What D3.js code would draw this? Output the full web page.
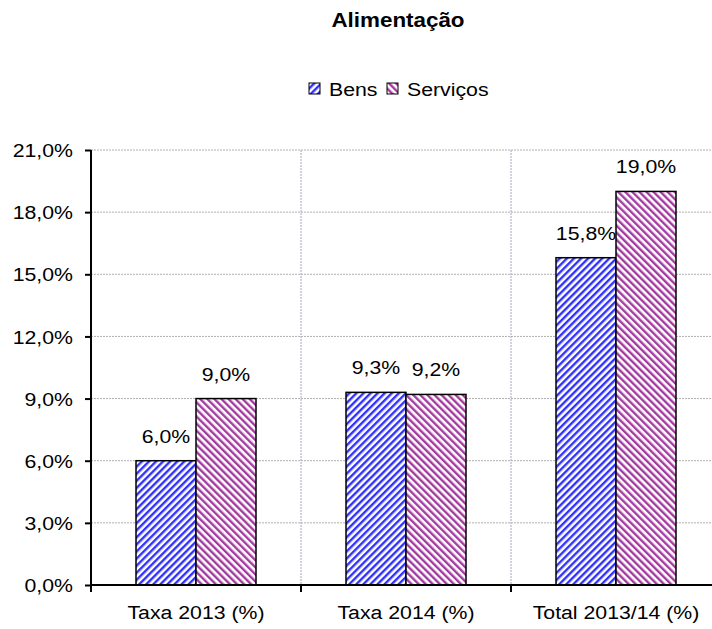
<!DOCTYPE html>
<html>
<head>
<meta charset="utf-8">
<script src="https://cdn.jsdelivr.net/npm/d3@7"></script>
<style>
  body { margin: 0; background: #fff; }
  svg { display: block; font-family: "Liberation Sans", Arial, sans-serif; }
</style>
</head>
<body>
<svg width="712" height="629"></svg>
<script>
var categories = ["Taxa 2013 (%)", "Taxa 2014 (%)", "Total 2013/14 (%)"];
var series = ["Bens", "Serviços"];
var bens = [6.0, 9.3, 15.8];
var servicos = [9.0, 9.2, 19.0];
var yTicks = [0, 3, 6, 9, 12, 15, 18, 21];

var svg = d3.select("svg"),
    margin = { top: 150, right: -9, bottom: 44, left: 91 },
    width = +svg.attr("width") - margin.left - margin.right,
    height = +svg.attr("height") - margin.top - margin.bottom;

var SX = 1.12; // text in the original is a bit wide
var FS = "19px";
var fmt = function(v) { return d3.format(".1f")(v).replace(".", ",") + "%"; };

var colors = { "Bens": "#3030ff", "Serviços": "#a33aa0" };

// stripe patterns
var defs = svg.append("defs");
function stripes(id, color, dir) {
    var p = defs.append("pattern")
        .attr("id", id)
        .attr("patternUnits", "userSpaceOnUse")
        .attr("width", 5)
        .attr("height", 5)
        .attr("patternTransform", "rotate(" + dir + ")");
    p.append("rect").attr("width", 5).attr("height", 5).attr("fill", "#fff");
    p.append("rect").attr("width", 2.4).attr("height", 5).attr("fill", color);
}
stripes("pat-bens", colors["Bens"], 45);
stripes("pat-serv", colors["Serviços"], -45);
var fills = { "Bens": "url(#pat-bens)", "Serviços": "url(#pat-serv)" };

function wide(sel, x, y) {
    sel.attr("transform", "translate(" + x + "," + y + ") scale(" + SX + ",1)");
}

// title
svg.append("text")
    .attr("text-anchor", "middle")
    .style("font-weight", "bold")
    .style("font-size", "20px")
    .text("Alimentação")
    .call(wide, 398, 27);

// legend
var legend = svg.append("g");
var legX = [309, 387];
series.forEach(function(s, i) {
    legend.append("rect")
        .attr("x", legX[i]).attr("y", 83)
        .attr("width", 11).attr("height", 11)
        .attr("fill", fills[s])
        .attr("stroke", "#000").attr("stroke-width", 1);
    legend.append("text")
        .style("font-size", FS)
        .text(s)
        .call(wide, legX[i] + 20, 96);
});

var x0 = d3.scaleBand().domain(categories).range([0, width]);
var bw = x0.bandwidth();
var x1 = d3.scaleBand().domain(series).range([bw * 45 / 210, bw * 165 / 210]);
var y = d3.scaleLinear().domain([0, 21]).range([height, 0]);

var g = svg.append("g")
    .attr("transform", "translate(" + margin.left + "," + margin.top + ")");

// gridlines
g.append("g").selectAll("line")
    .data(yTicks.slice(1))
    .join("line")
    .attr("x1", 0).attr("x2", width)
    .attr("y1", function(d) { return y(d); })
    .attr("y2", function(d) { return y(d); })
    .attr("stroke", "#b0b0b0")
    .attr("stroke-dasharray", "2,1")
    .attr("stroke-width", 1);

g.append("g").selectAll("line")
    .data(categories.slice(1))
    .join("line")
    .attr("x1", function(d) { return x0(d); })
    .attr("x2", function(d) { return x0(d); })
    .attr("y1", 0).attr("y2", height)
    .attr("stroke", "#a8a8c0")
    .attr("stroke-dasharray", "2,1")
    .attr("stroke-width", 1);

// bars
var rows = categories.map(function(c, i) {
    return { cat: c, vals: [ { s: "Bens", v: bens[i] }, { s: "Serviços", v: servicos[i] } ] };
});

var groups = g.selectAll(".grp")
    .data(rows)
    .join("g")
    .attr("class", "grp")
    .attr("transform", function(d) { return "translate(" + x0(d.cat) + ",0)"; });

groups.selectAll("rect")
    .data(function(d) { return d.vals; })
    .join("rect")
    .attr("x", function(d) { return x1(d.s); })
    .attr("y", function(d) { return y(d.v); })
    .attr("width", x1.bandwidth())
    .attr("height", function(d) { return height - y(d.v); })
    .attr("fill", function(d) { return fills[d.s]; })
    .attr("stroke", "#000")
    .attr("stroke-width", 1.5);

groups.selectAll("text.lbl")
    .data(function(d) { return d.vals; })
    .join("text")
    .attr("class", "lbl")
    .attr("text-anchor", "middle")
    .style("font-size", FS)
    .text(function(d) { return fmt(d.v); })
    .each(function(d) {
        d3.select(this).call(wide, x1(d.s) + x1.bandwidth() / 2, y(d.v) - 18);
    });

// y axis
var yAxis = g.append("g")
    .call(d3.axisLeft(y).tickValues(yTicks).tickSize(6).tickSizeOuter(0).tickFormat(fmt));
yAxis.attr("font-family", null).attr("font-size", null);
yAxis.select(".domain").attr("stroke-width", 2).attr("d", "M0,0V" + (height + 7));
yAxis.selectAll(".tick line").attr("stroke-width", 2);
yAxis.selectAll(".tick text")
    .attr("x", null).attr("dy", "0.35em")
    .style("font-size", FS)
    .call(wide, -18, 0);

// x axis
var xAxis = g.append("g")
    .attr("transform", "translate(0," + height + ")");
xAxis.append("line")
    .attr("x1", 0).attr("x2", width)
    .attr("stroke", "#000").attr("stroke-width", 2);
xAxis.selectAll("line.tk")
    .data(categories.slice(1))
    .join("line")
    .attr("class", "tk")
    .attr("x1", function(d) { return x0(d); })
    .attr("x2", function(d) { return x0(d); })
    .attr("y1", 0).attr("y2", 7)
    .attr("stroke", "#000").attr("stroke-width", 2);
xAxis.selectAll("text")
    .data(categories)
    .join("text")
    .attr("text-anchor", "middle")
    .style("font-size", FS)
    .text(function(d) { return d; })
    .each(function(d) {
        d3.select(this).call(wide, x0(d) + bw / 2, 34);
    });
</script>
</body>
</html>
